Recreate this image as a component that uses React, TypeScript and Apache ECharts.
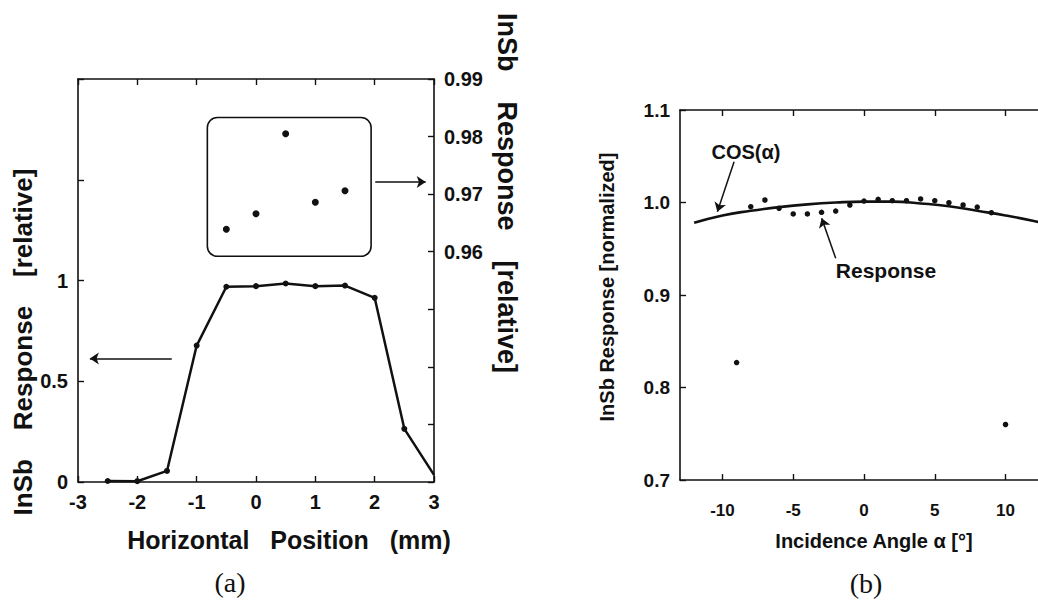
import React, { useEffect, useRef } from "react";
import * as echarts from "echarts";

// ---- Panel (a): horizontal scan ----
const posX = [-2.5, -2, -1.5, -1, -0.5, 0, 0.5, 1, 1.5, 2, 2.5, 3];
const posResp = [0.005, 0.004, 0.055, 0.677, 0.969, 0.972, 0.985, 0.972, 0.975, 0.914, 0.264, 0.035];
// inset (right axis, expanded scale)
const insetX = [-0.5, 0, 0.5, 1, 1.5];
const insetResp = [0.9639, 0.9666, 0.9805, 0.9686, 0.9706];
const insetBoxX = [-0.82, 1.94];
const insetBoxY = [0.9592, 0.9833];
const leftTickLabels = ["0", "0.5", "1"];

// ---- Panel (b): incidence angle ----
const angle = [-9, -8, -7, -6, -5, -4, -3, -2, -1, 0, 1, 2, 3, 4, 5, 6, 7, 8, 9, 10];
const angleResp = [0.827, 0.9955, 1.0027, 0.9937, 0.9876, 0.9876, 0.9894, 0.9908, 0.9973, 1.0016, 1.0034, 1.0019, 1.0019, 1.0038, 1.0019, 0.9998, 0.9973, 0.9951, 0.989, 0.76];
const cosX = [-12, -10, -8, -6, -4, -2, 0, 2, 4, 6, 8, 10, 12, 13];
const cosY = [0.978, 0.986, 0.991, 0.995, 0.998, 1.0, 1.001, 1.001, 0.999, 0.996, 0.991, 0.986, 0.98, 0.976];
const angleTicks = [-10, -5, 0, 5, 10];

const FONT = "Liberation Sans, Arial, Helvetica, sans-serif";
const SERIF = "Liberation Serif, Times New Roman, serif";
const BLACK = "#111";

const axisLine = { show: true, onZero: false, lineStyle: { color: BLACK, width: 1.6 } };
const tick = { show: true, inside: true, length: 6, lineStyle: { color: BLACK, width: 1.4 } };
const lbl = (size: number, margin: number) => ({
  color: BLACK,
  fontFamily: FONT,
  fontWeight: "bold" as const,
  fontSize: size,
  margin,
});

export default function App() {
  const ref = useRef<HTMLDivElement>(null);
  useEffect(() => {
    if (!ref.current) return;
    const chart = echarts.init(ref.current, null, { renderer: "svg" });
    const arrowLine = {
      silent: true,
      symbol: ["none", "arrow"],
      symbolSize: 9,
      label: { show: false },
      lineStyle: { color: BLACK, width: 1.5, type: "solid", opacity: 1 },
      itemStyle: { color: BLACK },
      emphasis: { disabled: true },
    };
    const option: any = {
      animation: false,
      backgroundColor: "#fff",
      grid: [
        { left: 78, top: 79, width: 356, height: 403 },
        { left: 680, top: 110, width: 368, height: 370 },
      ],
      xAxis: [
        {
          gridIndex: 0, type: "value", min: -3, max: 3, interval: 1, position: "bottom",
          axisLine, axisTick: tick, axisLabel: lbl(20, 10), splitLine: { show: false },
        },
        {
          gridIndex: 0, type: "value", min: -3, max: 3, interval: 1, position: "top",
          axisLine, axisTick: tick, axisLabel: { show: false }, splitLine: { show: false },
        },
        {
          gridIndex: 1, type: "value", min: -13, max: 13, position: "bottom",
          axisLine, axisTick: { ...tick, customValues: angleTicks },
          axisLabel: { ...lbl(17, 22), customValues: angleTicks }, splitLine: { show: false },
        },
        {
          gridIndex: 1, type: "value", min: -13, max: 13, position: "top",
          axisLine, axisTick: { ...tick, customValues: angleTicks },
          axisLabel: { show: false }, splitLine: { show: false },
        },
      ],
      yAxis: [
        {
          gridIndex: 0, type: "value", min: 0, max: 2, interval: 0.5, position: "left",
          axisLine, axisTick: tick,
          axisLabel: {
            ...lbl(20, 10),
            formatter: (v: number) => {
              const s = String(Math.round(v * 10) / 10);
              return leftTickLabels.includes(s) ? s : "";
            },
          },
          splitLine: { show: false },
        },
        {
          gridIndex: 0, type: "value", min: 0.92, max: 0.99, interval: 0.01, position: "right",
          axisLine, axisTick: tick,
          axisLabel: { ...lbl(20, 10), formatter: (v: number) => (v > 0.955 ? v.toFixed(2) : "") },
          splitLine: { show: false },
        },
        {
          gridIndex: 1, type: "value", min: 0.7, max: 1.1, interval: 0.1, position: "left",
          axisLine, axisTick: tick,
          axisLabel: { ...lbl(19, 10), formatter: (v: number) => v.toFixed(1) },
          splitLine: { show: false },
        },
        {
          gridIndex: 1, type: "value", min: 0.7, max: 1.1, interval: 0.1, position: "right",
          axisLine, axisTick: tick, axisLabel: { show: false }, splitLine: { show: false },
        },
      ],
      series: [
        {
          type: "line", xAxisIndex: 0, yAxisIndex: 0,
          data: posX.map((x, i) =>
            i === posX.length - 1 ? { value: [x, posResp[i]], symbol: "none" } : [x, posResp[i]]
          ),
          symbol: "circle", symbolSize: 6,
          lineStyle: { color: BLACK, width: 2.5 }, itemStyle: { color: BLACK, opacity: 1 },
          markLine: {
            ...arrowLine,
            data: [
              [{ coord: [-1.42, 0.613] }, { coord: [-2.8, 0.613] }],
              [{ coord: [2.01, 1.489] }, { coord: [2.86, 1.489] }],
            ],
          },
        },
        {
          type: "scatter", xAxisIndex: 0, yAxisIndex: 1,
          data: insetX.map((x, i) => [x, insetResp[i]]),
          symbol: "circle", symbolSize: 7, itemStyle: { color: BLACK, opacity: 1 },
        },
        {
          type: "line", xAxisIndex: 2, yAxisIndex: 2,
          data: cosX.map((x, i) => [x, cosY[i]]),
          smooth: true, symbol: "none",
          lineStyle: { color: BLACK, width: 2.6 },
          markLine: {
            ...arrowLine,
            data: [[{ coord: [-9.18, 1.0441] }, { coord: [-10.36, 0.99] }]],
          },
        },
        {
          type: "scatter", xAxisIndex: 2, yAxisIndex: 2,
          data: angle.map((x, i) => [x, angleResp[i]]),
          symbol: "circle", symbolSize: 5.5, itemStyle: { color: BLACK, opacity: 1 },
          markLine: {
            ...arrowLine,
            data: [[{ coord: [-2.0, 0.9397] }, { coord: [-2.99, 0.9829] }]],
          },
        },
      ],
    };
    chart.setOption(option);

    const p1 = chart.convertToPixel({ seriesIndex: 1 }, [insetBoxX[0], insetBoxY[1]]) as number[];
    const p2 = chart.convertToPixel({ seriesIndex: 1 }, [insetBoxX[1], insetBoxY[0]]) as number[];

    const txt = (text: string, x: number, y: number, size: number, rotation = 0, serif = false) => ({
      type: "text",
      x, y, rotation, silent: true,
      style: {
        text,
        fill: BLACK,
        font: serif ? `${size}px ${SERIF}` : `bold ${size}px ${FONT}`,
        textAlign: "center",
        textVerticalAlign: "middle",
      },
    });

    chart.setOption({
      graphic: [
        {
          type: "rect", silent: true,
          shape: { x: p1[0], y: p1[1], width: p2[0] - p1[0], height: p2[1] - p1[1], r: 10 },
          style: { fill: "none", stroke: BLACK, lineWidth: 1.6 },
        },
        txt("InSb    Response    [relative]", 23, 342, 26, Math.PI / 2),
        txt("InSb    Response    [relative]", 507, 193, 27, -Math.PI / 2),
        txt("Horizontal   Position   (mm)", 289, 540, 25),
        txt("(a)", 230, 582, 28, 0, true),
        txt("InSb Response [normalized]", 607, 287, 20, Math.PI / 2),
        txt("Incidence Angle α [°]", 874, 541, 20),
        txt("(b)", 866, 583, 28, 0, true),
        txt("COS(α)", 746, 152, 20),
        txt("Response", 886, 270, 21),
      ],
    });

    return () => chart.dispose();
  }, []);

  return (
    <div
      style={{
        position: "fixed", left: 0, top: 0, width: 1038, height: 601,
        overflow: "hidden", background: "#fff",
      }}
    >
      <div ref={ref} style={{ width: 1060, height: 601 }} />
    </div>
  );
}
